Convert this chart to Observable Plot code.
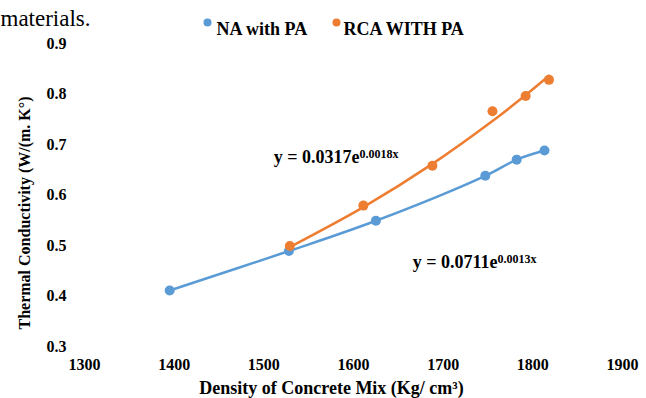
<!DOCTYPE html>
<html>
<head>
<meta charset="utf-8">
<script src="https://cdn.jsdelivr.net/npm/d3@7"></script>
<script src="https://cdn.jsdelivr.net/npm/@observablehq/plot@0.6"></script>
<style>
  html, body { margin: 0; padding: 0; background: #fff; }
  #chart svg { display: block; }
</style>
</head>
<body>
<div id="chart"></div>
<script>
// ---- data ----
const seriesNames = ["NA with PA", "RCA WITH PA"];
const seriesColors = ["#5B9BD5", "#ED7D31"];
const naDensity = [1395, 1528, 1625, 1747, 1782, 1813];
const naConductivity = [0.411, 0.489, 0.549, 0.638, 0.670, 0.688];
const rcaDensity = [1529, 1611, 1688, 1755, 1792, 1818];
const rcaConductivity = [0.499, 0.579, 0.658, 0.766, 0.796, 0.828];
// exponential trend y = a * e^(b x) shown on the chart
const rcaTrendA = 0.0317, rcaTrendB = 0.0018;
const xTicks = [1300, 1400, 1500, 1600, 1700, 1800, 1900];
const yTicks = [0.3, 0.4, 0.5, 0.6, 0.7, 0.8, 0.9];
const eqBase = ["y = 0.0317e", "y = 0.0711e"];
const eqExp = ["0.0018x", "0.0013x"];

const na = naDensity.map((d, i) => ({x: d, y: naConductivity[i]}));
const rca = rcaDensity.map((d, i) => ({x: d, y: rcaConductivity[i]}));
const rcaTrend = rcaDensity.map(d => ({x: d, y: rcaTrendA * Math.exp(rcaTrendB * d)}));

const font = "'Liberation Serif', 'Times New Roman', serif";

const chart = Plot.plot({
  width: 646,
  height: 398,
  marginLeft: 84,
  marginRight: 24,
  marginTop: 43,
  marginBottom: 52,
  style: {fontFamily: font, fontSize: "16px", fontWeight: "bold", color: "#000", background: "#fff"},
  x: {domain: [1300, 1900], ticks: xTicks, label: null},
  y: {domain: [0.3, 0.9], ticks: yTicks, label: null},
  marks: [
    Plot.axisX({ticks: xTicks, tickSize: 0, tickPadding: 12, tickFormat: d => String(d), label: null, fontSize: 16, fontWeight: "bold"}),
    Plot.axisY({ticks: yTicks, tickSize: 0, tickPadding: 18, tickFormat: d => d.toFixed(1), label: null, fontSize: 16, fontWeight: "bold"}),
    // series
    Plot.line(na, {x: "x", y: "y", stroke: seriesColors[0], strokeWidth: 2.5, curve: "catmull-rom"}),
    Plot.line(rcaTrend, {x: "x", y: "y", stroke: seriesColors[1], strokeWidth: 2.5, curve: "catmull-rom"}),
    Plot.dot(na, {x: "x", y: "y", r: 5, fill: seriesColors[0]}),
    Plot.dot(rca, {x: "x", y: "y", r: 5, fill: seriesColors[1]}),
    // equations
    Plot.text([eqBase[0]], {x: 1511, y: 0.674, text: d => d, textAnchor: "start", fontSize: 18, fontWeight: "bold", fill: "#000"}),
    Plot.text([eqBase[1]], {x: 1666, y: 0.466, text: d => d, textAnchor: "start", fontSize: 18, fontWeight: "bold", fill: "#000"}),
    // axis titles
    Plot.text(["Thermal Conductivity (W/(m. K°)"], {frameAnchor: "left", dx: -60, dy: 18, rotate: -90, textAnchor: "middle", text: d => d, fontSize: 16, fontWeight: "bold", fill: "#000"}),
    Plot.text(["Density of Concrete Mix (Kg/ cm³)"], {frameAnchor: "bottom", dx: -22, dy: 47, textAnchor: "middle", text: d => d, fontSize: 18, fontWeight: "bold", fill: "#000"}),
    // legend
    Plot.dot([0], {frameAnchor: "top-left", dx: 123, dy: -21, r: 4, fill: seriesColors[0]}),
    Plot.text([seriesNames[0]], {frameAnchor: "top-left", dx: 132, dy: -21, text: d => d, textAnchor: "start", fontSize: 18, fontWeight: "bold", fill: "#000"}),
    Plot.dot([0], {frameAnchor: "top-left", dx: 252, dy: -21, r: 4, fill: seriesColors[1]}),
    Plot.text([seriesNames[1]], {frameAnchor: "top-left", dx: 259, dy: -21, text: d => d, textAnchor: "start", fontSize: 18, fontWeight: "bold", fill: "#000"}),
    // fragment of the surrounding document text
    Plot.text(["materials."], {frameAnchor: "top-left", dx: -84, dy: -34, text: d => d, textAnchor: "start", fontSize: 23, fontWeight: "normal", fill: "#000"})
  ]
});

// add superscript exponents to the equations
d3.select(chart).selectAll("text").each(function() {
  const t = this.textContent;
  const i = eqBase.indexOf(t);
  if (i >= 0) {
    d3.select(this).append("tspan").attr("dy", "-0.45em").attr("font-size", 12).text(eqExp[i]);
  }
});

document.getElementById("chart").appendChild(chart);
</script>
</body>
</html>
